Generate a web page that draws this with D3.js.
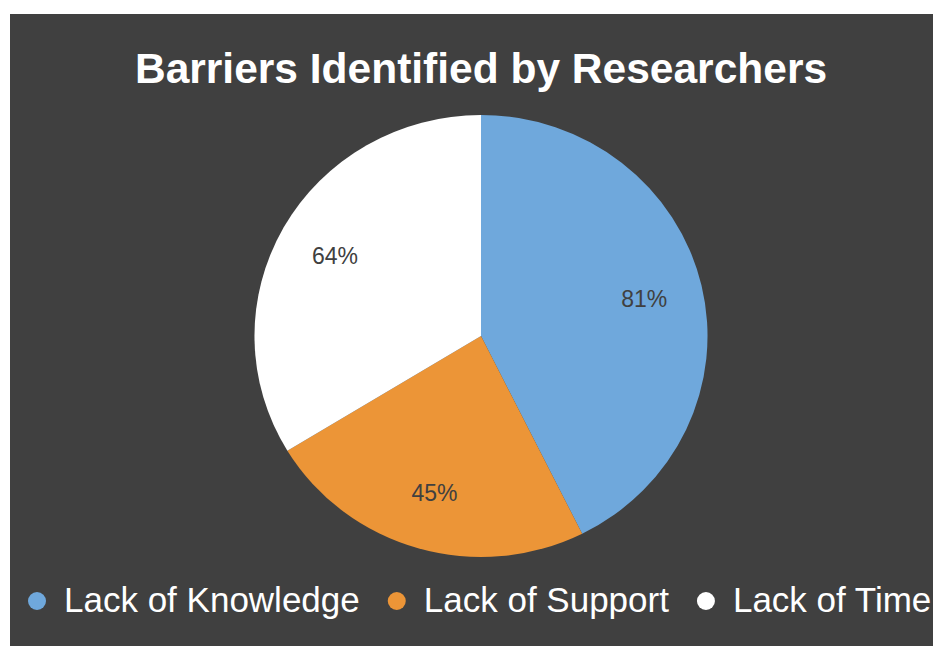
<!DOCTYPE html>
<html>
<head>
<meta charset="utf-8">
<script src="https://cdn.jsdelivr.net/npm/d3@7"></script>
<style>
  html, body { margin: 0; padding: 0; background: #ffffff; }
  svg { display: block; }
</style>
</head>
<body>
<svg id="chart" width="933" height="646"></svg>
<script>
// Survey results: share of researchers naming each barrier
const categories = ["Lack of Knowledge", "Lack of Support", "Lack of Time"];
const values = [81, 45, 64];
const valueLabels = ["81%", "45%", "64%"];
const sliceColors = ["#6FA8DC", "#EC9537", "#FFFFFF"];
const titleText = "Barriers Identified by Researchers";

const W = 933, H = 646;
const svg = d3.select("#chart");

// dark panel
svg.append("rect")
  .attr("x", 10).attr("y", 14)
  .attr("width", W - 10).attr("height", H - 14)
  .attr("fill", "#404040");

// title
svg.append("text")
  .attr("x", 481).attr("y", 83)
  .attr("text-anchor", "middle")
  .attr("font-family", "'Liberation Sans', Arial, sans-serif")
  .attr("font-weight", "bold")
  .attr("font-size", 42.5)
  .attr("fill", "#FFFFFF")
  .text(titleText);

// pie
const cx = 481, cy = 336, r = 221;
const color = d3.scaleOrdinal().domain(categories).range(sliceColors);
const pie = d3.pie().sort(null).value(d => d.value);
const arcs = pie(categories.map((c, i) => ({ cat: c, value: values[i], label: valueLabels[i] })));
const arc = d3.arc().innerRadius(0).outerRadius(r);
const labelArc = d3.arc().innerRadius(r * 0.74).outerRadius(r * 0.74);

const g = svg.append("g")
  .attr("transform", `translate(${cx},${cy}) scale(1.025,1)`);

g.selectAll("path.slice")
  .data(arcs)
  .join("path")
  .attr("class", "slice")
  .attr("d", arc)
  .attr("fill", d => color(d.data.cat));

g.selectAll("text.value")
  .data(arcs)
  .join("text")
  .attr("class", "value")
  .attr("transform", d => {
    const [x, y] = labelArc.centroid(d);
    return `translate(${x},${y}) scale(${1 / 1.025},1)`;
  })
  .attr("text-anchor", "middle")
  .attr("dy", "0.36em")
  .attr("font-family", "'Liberation Sans', Arial, sans-serif")
  .attr("font-size", 23)
  .attr("fill", "#404040")
  .text(d => d.data.label);

// legend, laid out left to right
const legend = svg.append("g");
let x = 37;
const legendY = 612;
categories.forEach((c, i) => {
  legend.append("circle")
    .attr("cx", x).attr("cy", legendY - 11)
    .attr("r", 9)
    .attr("fill", color(c));
  const t = legend.append("text")
    .attr("x", x + 27).attr("y", legendY)
    .attr("font-family", "'Liberation Sans', Arial, sans-serif")
    .attr("font-size", 35)
    .attr("fill", "#FFFFFF")
    .text(c);
  x = x + 27 + t.node().getComputedTextLength() + 37;
});
</script>
</body>
</html>
